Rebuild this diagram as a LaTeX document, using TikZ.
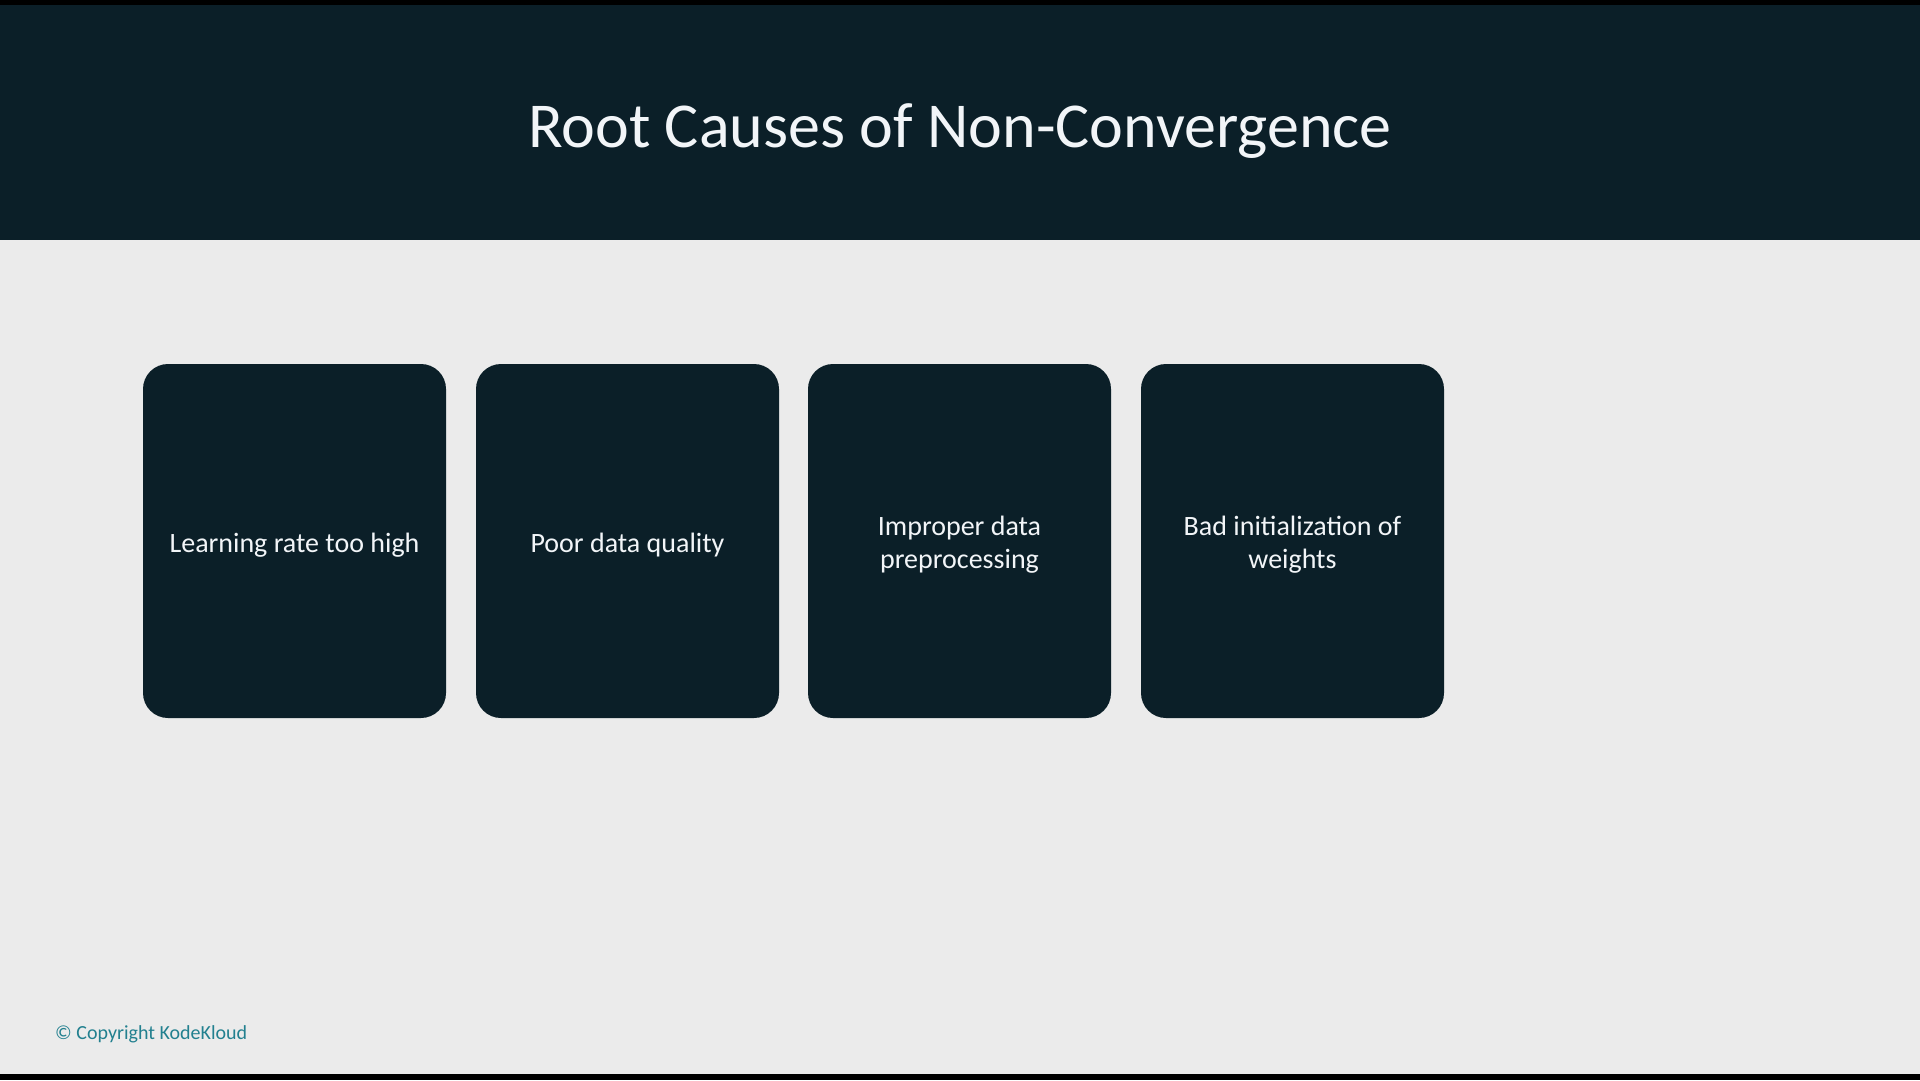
\documentclass[tikz,border=0pt]{standalone}
\usepackage{fontspec}
\setmainfont{Carlito}

\definecolor{pagebg}{HTML}{EBEBEB}
\definecolor{navy}{HTML}{0B1F28}
\definecolor{cardtext}{HTML}{F2F5F8}
\definecolor{kloud}{HTML}{22808F}

\begin{document}
\begin{tikzpicture}[x=1pt,y=-1pt,
  causebox/.style={fill=navy, rounded corners=25pt, minimum width=303pt,
    minimum height=354pt, inner sep=0pt},
  causetext/.style={yshift=-4pt, inner sep=0pt, align=center, text=cardtext,
    font=\fontsize{28}{33}\selectfont}]

% Page and header band
\fill[pagebg] (0,0) rectangle (1920,1080);
\useasboundingbox (0,0) rectangle (1920,1080);
\fill[black] (0,0) rectangle (1920,5);
\fill[navy] (0,5) rectangle (1920,240);
\fill[black] (0,1074) rectangle (1920,1080);

\node[anchor=base, inner sep=0pt, text=cardtext, font=\fontsize{64}{76}\selectfont]
  (title) at (960,147) {Root Causes of Non-Convergence};

% Causes
\node[causebox, label={[causetext]center:Learning rate too high}] (lrate) at (294.5,541) {};
\node[causebox, label={[causetext]center:Poor data quality}] (quality) at (627.5,541) {};
\node[causebox, label={[causetext]center:Improper data\\preprocessing}] (prep) at (959.5,541) {};
\node[causebox, label={[causetext]center:Bad initialization of\\weights}] (init) at (1292.5,541) {};

% Footer
\node[anchor=base west, inner sep=0pt, text=kloud, font=\fontsize{20}{24}\selectfont]
  (copy) at (55,1039) {© Copyright KodeKloud};

\end{tikzpicture}
\end{document}
